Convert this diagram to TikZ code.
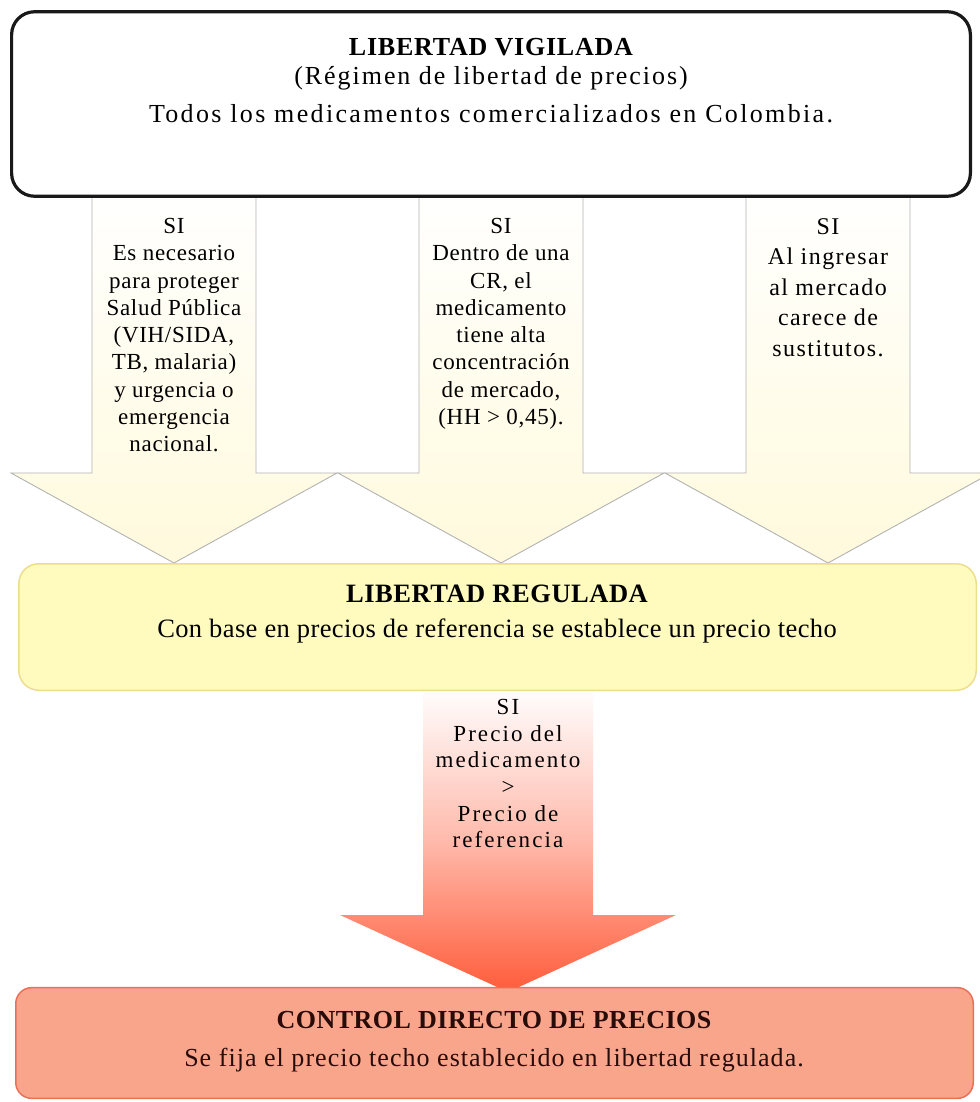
\documentclass[tikz,border=0pt]{standalone}
\usepackage{fontspec}
\setmainfont{Liberation Serif}
\definecolor{arrowline}{RGB}{178,178,178}
\definecolor{paleyellow}{RGB}{255,250,220}
\definecolor{regfill}{RGB}{255,250,190}
\definecolor{regline}{RGB}{236,222,140}
\definecolor{ctrlfill}{RGB}{249,165,140}
\definecolor{ctrlline}{RGB}{234,112,88}
\definecolor{hotorange}{RGB}{255,92,58}
\definecolor{inkbrown}{RGB}{40,12,10}

% block arrow: style, centre x, top y, shaft bottom y, tip y, shaft half width, head half width
\newcommand{\blockarrow}[7]{%
  \path[#1] (#2-#6,#3) -- (#2+#6,#3) -- (#2+#6,#4) -- (#2+#7,#4)
    -- (#2,#5) -- (#2-#7,#4) -- (#2-#6,#4) -- cycle;}

\begin{document}
\begin{tikzpicture}[x=1pt,y=-1pt,
  yarrow/.style={draw=arrowline,line width=0.9pt,top color=white,bottom color=paleyellow},
  rarrow/.style={top color=white,bottom color=hotorange,middle color={hotorange!42!white}},
  vigbox/.style={draw=black!90,line width=3.2pt,fill=white,rounded corners=23pt,inner sep=0pt},
  regbox/.style={draw=regline,line width=1.5pt,fill=regfill,rounded corners=20pt,inner sep=0pt},
  ctrlbox/.style={draw=ctrlline,line width=1.5pt,fill=ctrlfill,rounded corners=16pt,inner sep=0pt},
  boxtxt/.style={align=center,inner sep=0pt,anchor=north},
  arrowtxt/.style={align=center,inner sep=0pt,anchor=north,
    font=\fontsize{23}{27.3}\selectfont\addfontfeature{LetterSpace=3}},
  widetxt/.style={align=center,inner sep=0pt,anchor=north,
    font=\fontsize{24}{30.5}\selectfont\addfontfeature{LetterSpace=6}},
  redtxt/.style={align=center,inner sep=0pt,anchor=north,
    font=\fontsize{23}{26.7}\selectfont\addfontfeature{LetterSpace=9}}]
\useasboundingbox (0,0) rectangle (979,1102);

% three conditions leading from the free regime to the regulated one
\blockarrow{yarrow}{174}{190}{473}{563}{82}{163}
\blockarrow{yarrow}{501}{190}{473}{563}{82}{163}
\blockarrow{yarrow}{828}{190}{473}{563}{82}{163}
\coordinate (tip1) at (174,563);
\coordinate (tip2) at (501,563);
\coordinate (tip3) at (828,563);

% condition leading to direct price control
\blockarrow{rarrow}{508}{686}{915}{992}{85}{168}
\coordinate (tip4) at (508,992);

% top box
\node[vigbox,minimum width=958.8pt,minimum height=184.5pt] (vig) at (491,104) {};
\node[boxtxt,font=\fontsize{26}{28.6}\selectfont] (vigtxt) at (491,38)
  {{\bfseries\addfontfeature{LetterSpace=3}LIBERTAD VIGILADA}\\
   {\addfontfeature{LetterSpace=7.5}(Régimen de libertad de precios)}\\[9.4pt]
   {\addfontfeature{LetterSpace=9}Todos los medicamentos comercializados en Colombia.}};

% texts inside the three arrows
\node[arrowtxt] (cond1) at (174,218)
  {SI\\Es necesario\\para proteger\\Salud Pública\\(VIH/SIDA,\\TB, malaria)\\y urgencia o\\emergencia\\nacional.};
\node[arrowtxt] (cond2) at (501,218)
  {SI\\Dentro de una\\CR, el\\medicamento\\tiene alta\\concentración\\de mercado,\\(HH > 0,45).};
\node[widetxt] (cond3) at (828,218)
  {SI\\Al ingresar\\al mercado\\carece de\\sustitutos.};

% regulated regime
\node[regbox,minimum width=957.5pt,minimum height=126.5pt] (reg) at (497.5,627) {};
\node[boxtxt,font=\fontsize{26.5}{35}\selectfont] (regtxt) at (497,584.5)
  {{\bfseries\addfontfeature{LetterSpace=2}LIBERTAD REGULADA}\\
   {\addfontfeature{LetterSpace=1.5}Con base en precios de referencia se establece un precio techo}};

% text inside the lower arrow
\node[redtxt] (cond4) at (508,699)
  {SI\\Precio del\\medicamento\\>\\Precio de\\referencia};

% direct control
\node[ctrlbox,minimum width=957.5pt,minimum height=110.75pt] (ctrl) at (494.5,1043) {};
\node[boxtxt,text=inkbrown,font=\fontsize{26}{38}\selectfont] (ctrltxt) at (494,1011)
  {{\bfseries\addfontfeature{LetterSpace=2}CONTROL DIRECTO DE PRECIOS}\\
   {\addfontfeature{LetterSpace=4}Se fija el precio techo establecido en libertad regulada.}};
\end{tikzpicture}
\end{document}
